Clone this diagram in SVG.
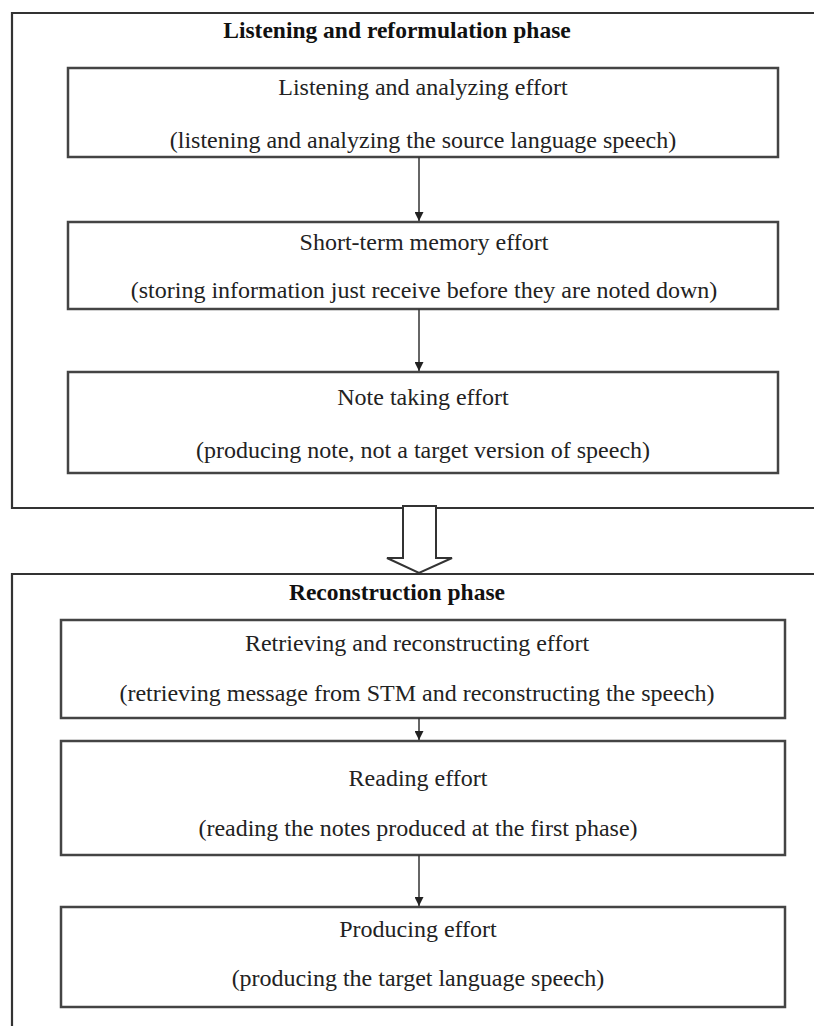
<svg xmlns="http://www.w3.org/2000/svg" width="814" height="1026" viewBox="0 0 814 1026">
<style>
.frame{fill:none;stroke:#333;stroke-width:2.2}
.box{fill:#fff;stroke:#444;stroke-width:2.5}
.t{font-family:"Liberation Serif","Times New Roman",serif;font-size:24px;fill:#222;text-anchor:middle}
.h{font-family:"Liberation Serif","Times New Roman",serif;font-size:23.5px;font-weight:bold;fill:#111;text-anchor:middle}
.c{stroke:#333;stroke-width:1.5;fill:none}
</style>
<defs>
<marker id="ah" viewBox="0 0 10 10" refX="10" refY="5" markerWidth="9" markerHeight="9" markerUnits="userSpaceOnUse" orient="auto">
<path d="M0,0 L10,5 L0,10 z" fill="#222"/>
</marker>
</defs>
<rect width="814" height="1026" fill="#fff"/>
<g id="phase1">
<path class="frame" d="M830,13 H12 V508 H830"/>
<text class="h" x="397" y="38">Listening and reformulation phase</text>
</g>
<g id="phase2">
<path class="frame" d="M830,574 H12 V1040"/>
<text class="h" x="397" y="600">Reconstruction phase</text>
</g>
<g id="n1">
<rect class="box" x="68" y="68" width="710" height="89"/>
<text class="t" x="423" y="95">Listening and analyzing effort</text>
<text class="t" x="423" y="148">(listening and analyzing the source language speech)</text>
</g>
<g id="n2">
<rect class="box" x="68" y="222" width="710" height="87"/>
<text class="t" x="424" y="250">Short-term memory effort</text>
<text class="t" x="424" y="298">(storing information just receive before they are noted down)</text>
</g>
<g id="n3">
<rect class="box" x="68" y="372" width="710" height="101"/>
<text class="t" x="423" y="405">Note taking effort</text>
<text class="t" x="423" y="458">(producing note, not a target version of speech)</text>
</g>
<g id="n4">
<rect class="box" x="61" y="620" width="724" height="98"/>
<text class="t" x="417" y="651">Retrieving and reconstructing effort</text>
<text class="t" x="417" y="701">(retrieving message from STM and reconstructing the speech)</text>
</g>
<g id="n5">
<rect class="box" x="61" y="741" width="724" height="114"/>
<text class="t" x="418" y="786">Reading effort</text>
<text class="t" x="418" y="836">(reading the notes produced at the first phase)</text>
</g>
<g id="n6">
<rect class="box" x="61" y="907" width="724" height="100"/>
<text class="t" x="418" y="937">Producing effort</text>
<text class="t" x="418" y="986">(producing the target language speech)</text>
</g>
<g id="connectors">
<line class="c" x1="419" y1="157" x2="419" y2="221" marker-end="url(#ah)"/>
<line class="c" x1="419" y1="309" x2="419" y2="371" marker-end="url(#ah)"/>
<line class="c" x1="419" y1="718" x2="419" y2="740" marker-end="url(#ah)"/>
<line class="c" x1="419" y1="855" x2="419" y2="906" marker-end="url(#ah)"/>
<path d="M403,506 H436 V558 H452 L419,573 L387,558 H403 Z" fill="#fff" stroke="#333" stroke-width="2"/>
</g>
</svg>
